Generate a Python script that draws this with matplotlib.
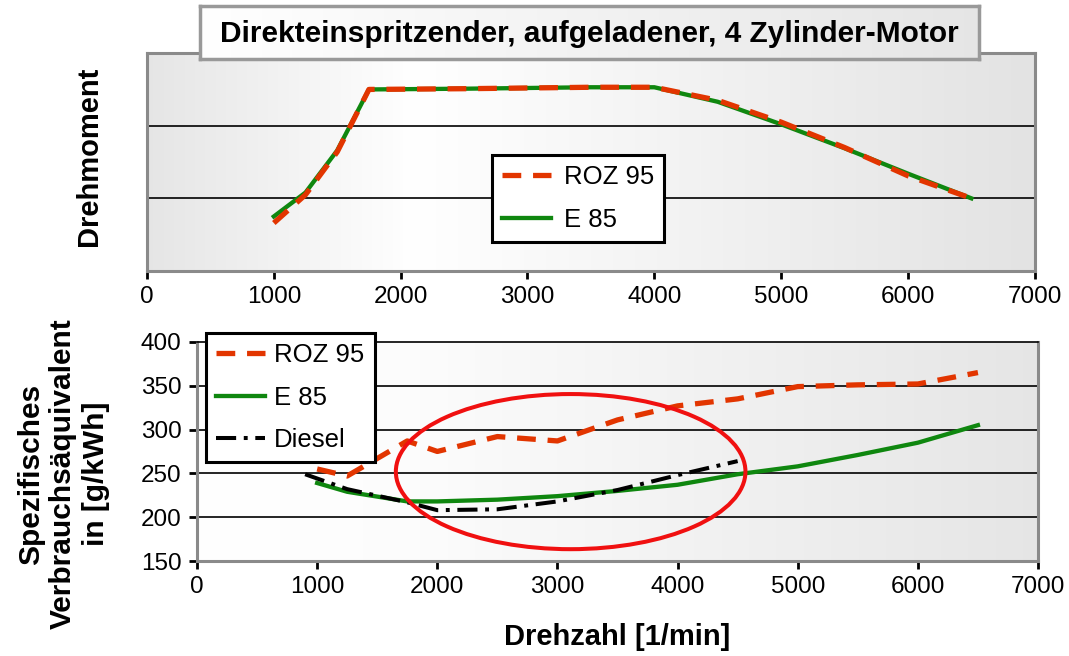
import numpy as np
import matplotlib
matplotlib.use("Agg")
import matplotlib.pyplot as plt
from matplotlib.patches import Ellipse
from matplotlib.lines import Line2D

plt.rcParams['font.family'] = ['Liberation Sans', 'DejaVu Sans']
plt.rcParams['lines.scale_dashes'] = False

# ---------------- data ----------------
torque_rpm_roz = [1000, 1250, 1500, 1750, 2500, 3000, 3500, 4000, 4500, 5000, 5500, 6000, 6500]
torque_roz = [0.66, 1.05, 1.64, 2.50, 2.51, 2.52, 2.53, 2.53, 2.35, 2.05, 1.70, 1.31, 1.00]
torque_rpm_e85 = [1000, 1250, 1500, 1750, 2500, 3000, 3500, 4000, 4500, 5000, 5500, 6000, 6500]
torque_e85 = [0.75, 1.08, 1.66, 2.50, 2.51, 2.52, 2.53, 2.53, 2.33, 2.02, 1.69, 1.34, 1.00]

bsfc_rpm = [1000, 1250, 1750, 2000, 2500, 3000, 3500, 4000, 4500, 5000, 5500, 6000, 6500]
bsfc_roz = [255, 247, 287, 275, 292, 287, 311, 327, 335, 349, 351, 352, 365]
bsfc_e85 = [239, 229, 218, 218, 220, 224, 230, 237, 249, 258, 271, 285, 305]
diesel_rpm = [900, 1250, 1750, 2000, 2500, 3000, 3500, 4000, 4500]
bsfc_diesel = [249, 232, 217, 208, 209, 218, 231, 248, 264]

x_ticks = [0, 1000, 2000, 3000, 4000, 5000, 6000, 7000]
y_ticks_bsfc = [150, 200, 250, 300, 350, 400]
series_labels = ['ROZ 95', 'E 85', 'Diesel']
title_text = 'Direkteinspritzender, aufgeladener, 4 Zylinder-Motor'

# ---------------- style ----------------
RED = '#e23500'
GREEN = '#0f870f'
SPINE = '#8a8a8a'
red_dash = (0, (13.5, 8.5))
diesel_dash = (0, (14.5, 5.5, 2.8, 5.5))
LW_RED, LW_GREEN, LW_DIESEL = 3.8, 3.1, 2.9

fig = plt.figure(figsize=(10.69, 6.56), dpi=100)

def gradient_bg(ax, stops):
    xs = np.linspace(0, 1, 400)
    pos = [s[0] for s in stops]
    val = [s[1] for s in stops]
    g = np.interp(xs, pos, val)
    img = np.dstack([g, g, g])  # shape (1, 400, 3)
    ax.imshow(img, extent=[0, 1, 0, 1], transform=ax.transAxes, aspect='auto',
              zorder=0, interpolation='bilinear')

def style_axes(ax):
    for s in ax.spines.values():
        s.set_color(SPINE)
        s.set_linewidth(2.2)
    ax.tick_params(axis='both', direction='out', length=6, width=2, color='black',
                   labelsize=17.5, pad=5)

# ---------------- top axes ----------------
ax1 = fig.add_axes([0.1375, 0.587, 0.8305, 0.332])
gradient_bg(ax1, [(0, 0.90), (0.3, 1.0), (1, 0.89)])
style_axes(ax1)
ax1.set_xlim(0, 7000)
ax1.set_ylim(0, 3)
ax1.set_xticks(x_ticks)
ax1.set_yticks([])
for gy in [1, 2]:
    ax1.axhline(gy, color='black', lw=1.2, zorder=1)
ax1.plot(torque_rpm_e85, torque_e85, color=GREEN, lw=LW_GREEN, zorder=3)
ax1.plot(torque_rpm_roz, torque_roz, color=RED, lw=LW_RED, linestyle=red_dash,
         dash_capstyle='butt', zorder=4)
ax1.set_ylabel('Drehmoment', fontsize=21, fontweight='bold')
ax1.yaxis.set_label_coords(-0.050, 0.527)
h1 = [Line2D([], [], color=RED, lw=LW_RED, linestyle=red_dash),
      Line2D([], [], color=GREEN, lw=LW_GREEN)]
leg1 = ax1.legend(h1, series_labels[:2], loc='upper left', bbox_to_anchor=(0.3885, 0.532),
                  fontsize=18.5, frameon=True, fancybox=False, edgecolor='black',
                  framealpha=1, handlelength=1.9, handletextpad=0.5, labelspacing=0.72,
                  borderpad=0.4, borderaxespad=0)
leg1.get_frame().set_linewidth(2.2)
leg1.set_zorder(6)

# ---------------- bottom axes ----------------
ax2 = fig.add_axes([0.1843, 0.1448, 0.7867, 0.334])
gradient_bg(ax2, [(0, 1.0), (0.25, 0.99), (1, 0.90)])
style_axes(ax2)
ax2.spines['top'].set_color('black')
ax2.spines['top'].set_linewidth(1.2)
ax2.set_xlim(0, 7000)
ax2.set_ylim(150, 400)
ax2.set_xticks(x_ticks)
ax2.set_yticks(y_ticks_bsfc)
for gy in y_ticks_bsfc[1:-1]:
    ax2.axhline(gy, color='black', lw=1.2, zorder=1)
ax2.plot(bsfc_rpm, bsfc_e85, color=GREEN, lw=LW_GREEN, zorder=3)
ax2.plot(diesel_rpm, bsfc_diesel, color='black', lw=LW_DIESEL, linestyle=diesel_dash,
         dash_capstyle='butt', zorder=3)
ax2.plot(bsfc_rpm, bsfc_roz, color=RED, lw=LW_RED, linestyle=red_dash,
         dash_capstyle='butt', zorder=4)
ax2.add_patch(Ellipse((3110, 252), 2910, 177, fill=False, edgecolor='#f01010', lw=2.9, zorder=5))
ax2.set_xlabel('Drehzahl [1/min]', fontsize=21, fontweight='bold', labelpad=18)
ax2.set_ylabel('Spezifisches\nVerbrauchsäquivalent\nin [g/kWh]', fontsize=21.5,
               fontweight='bold', linespacing=1.2)
ax2.yaxis.set_label_coords(-0.104, 0.397)
h2 = [Line2D([], [], color=RED, lw=LW_RED, linestyle=red_dash),
      Line2D([], [], color=GREEN, lw=LW_GREEN),
      Line2D([], [], color='black', lw=LW_DIESEL, linestyle=diesel_dash)]
leg2 = ax2.legend(h2, series_labels, loc='upper left', bbox_to_anchor=(0.0107, 1.041),
                  fontsize=18.5, frameon=True, fancybox=False, edgecolor='black',
                  framealpha=1, handlelength=1.9, handletextpad=0.35, labelspacing=0.72,
                  borderpad=0.4, borderaxespad=0)
leg2.get_frame().set_linewidth(2.2)
leg2.set_zorder(6)
leg2.set_clip_on(False)

# ---------------- title box ----------------
axt = fig.add_axes([0.187, 0.910, 0.729, 0.081])
axt.set_xticks([])
axt.set_yticks([])
gradient_bg(axt, [(0, 1.0), (1, 0.90)])
axt.set_xlim(0, 1)
axt.set_ylim(0, 1)
for s in axt.spines.values():
    s.set_color('#999999')
    s.set_linewidth(2.5)
axt.text(0.5, 0.48, title_text, ha='center', va='center', fontsize=21.5,
         fontweight='bold', transform=axt.transAxes)
axt.set_zorder(10)

fig.savefig('out.png', dpi=100)
